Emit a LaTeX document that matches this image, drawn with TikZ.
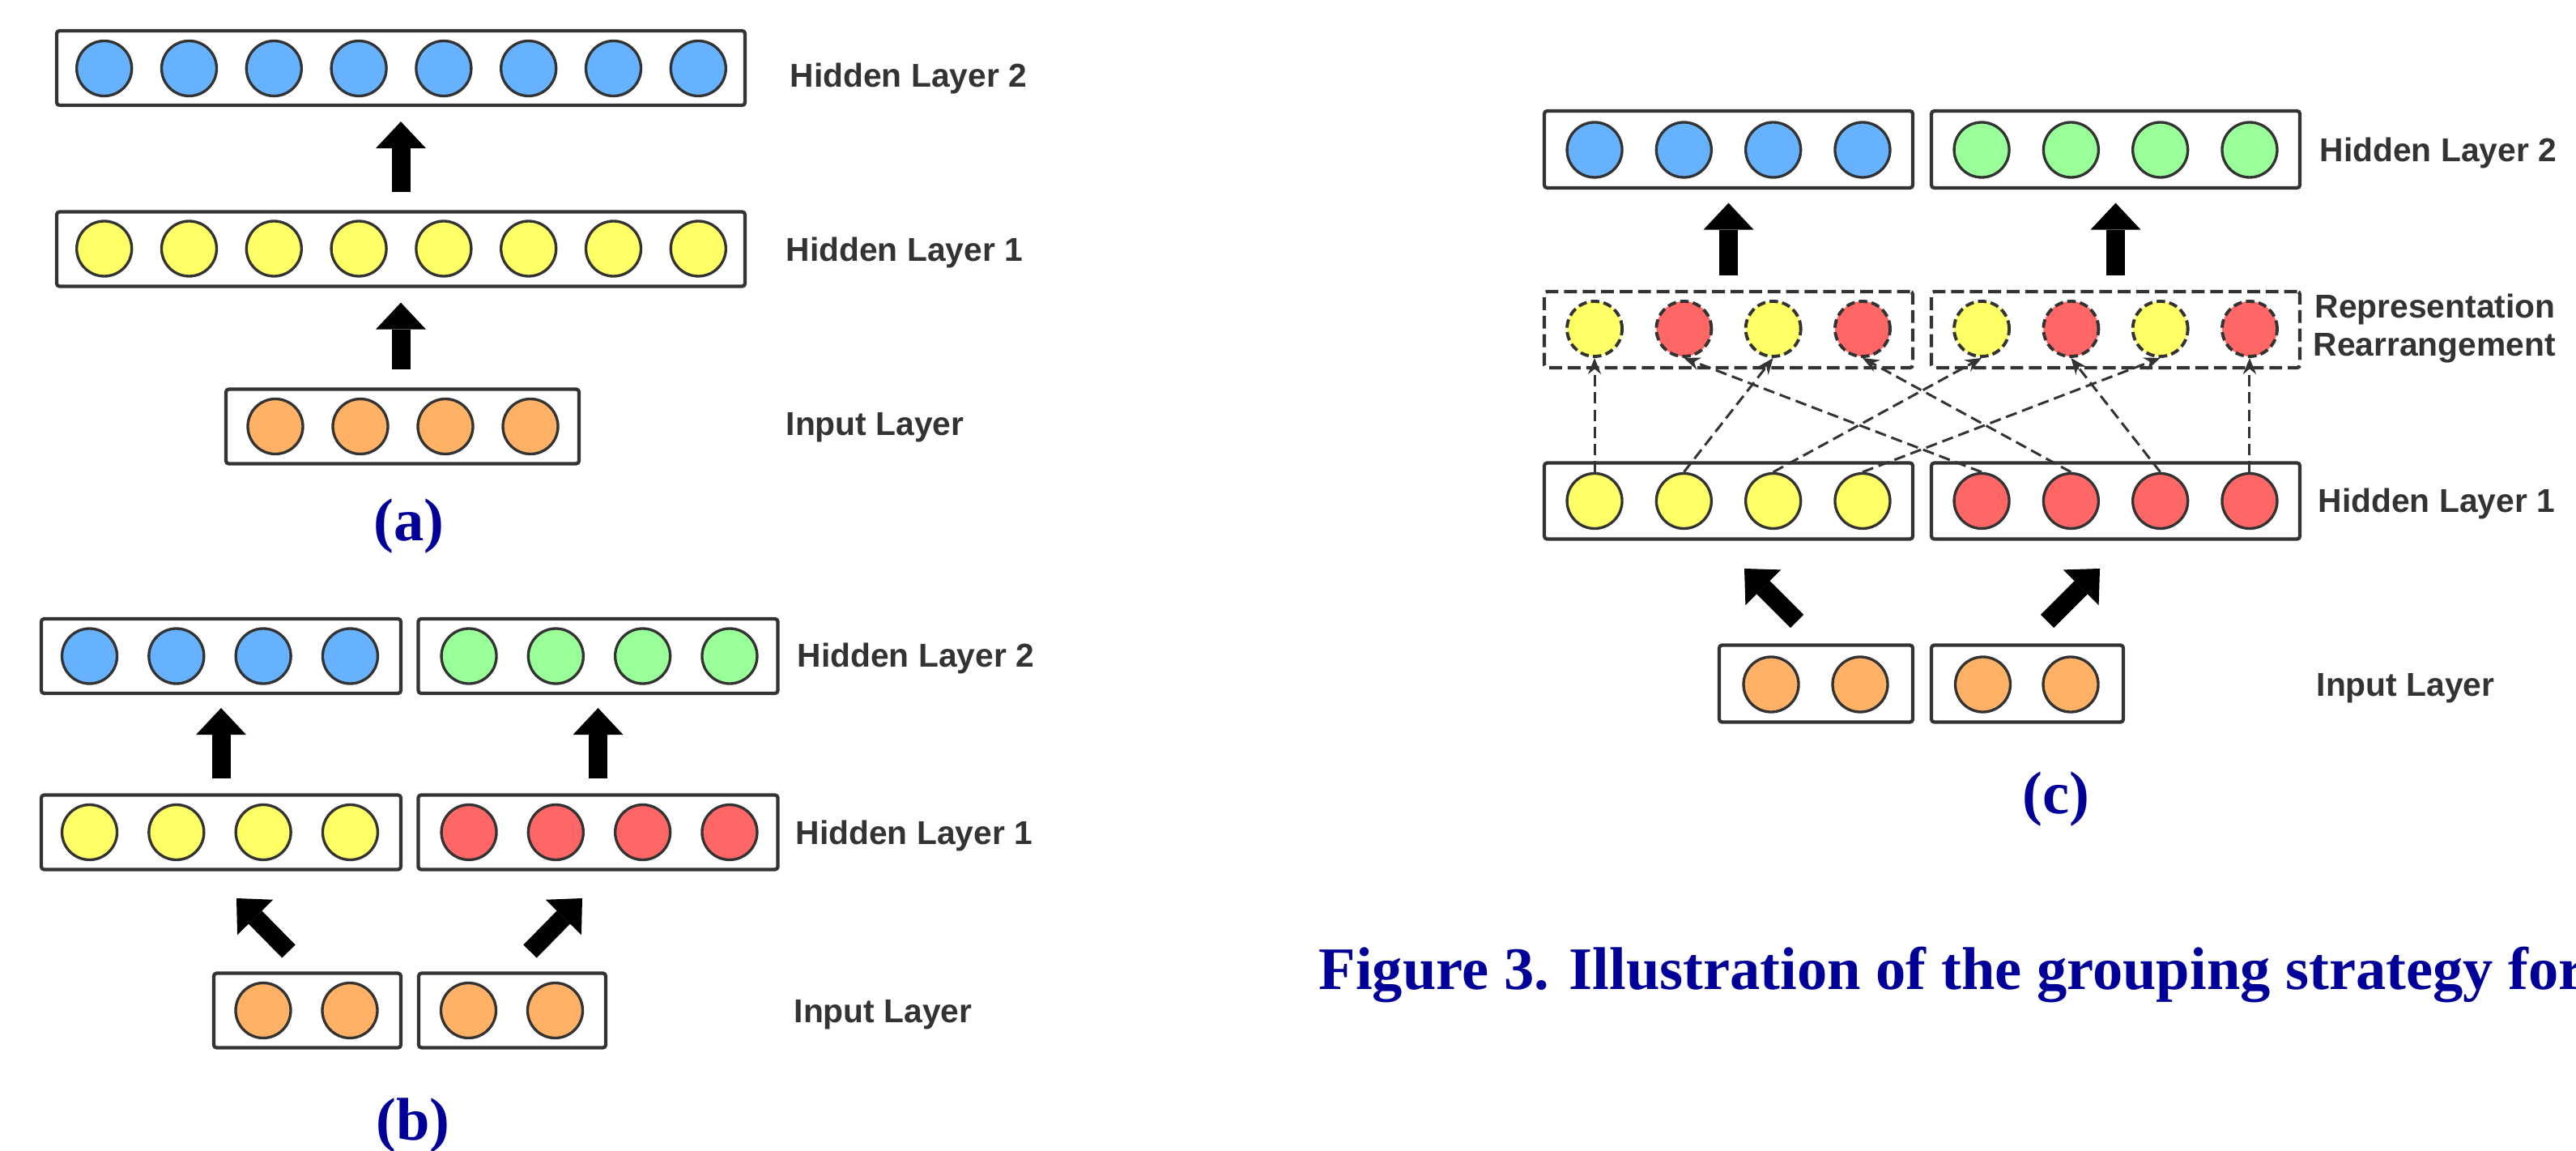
\documentclass[tikz,border=0pt]{standalone}
\usepackage{fontspec}
\setmainfont{Liberation Serif}
\setsansfont{Liberation Sans}
\usetikzlibrary{arrows.meta}
\definecolor{linegray}{HTML}{333333}
\definecolor{cblue}{HTML}{66B2FF}
\definecolor{cyellow}{HTML}{FFFF66}
\definecolor{corange}{HTML}{FFB266}
\definecolor{cred}{HTML}{FF6666}
\definecolor{cgreen}{HTML}{99FF99}
\definecolor{capblue}{HTML}{000099}

\begin{document}
\begin{tikzpicture}[
layerbox/.style={rectangle,rounded corners=1pt,draw=linegray,line width=1.2pt,inner sep=0pt,minimum height=0.92cm},
dashbox/.style={layerbox,dash pattern=on 4.5pt off 2pt},
neuron/.style={circle,draw=linegray,line width=0.95pt,minimum size=0.68cm,inner sep=0pt},
moved/.style={neuron,line width=1.1pt,dash pattern=on 3pt off 1.5pt},
bigarrow/.style={black,line width=0.23cm,-{Triangle[width=0.62cm,length=0.33cm,line width=0pt]}},
regroup/.style={linegray,line width=0.85pt,dash pattern=on 4pt off 2pt,-{Stealth[length=2mm,width=1.6mm]}},
lbl/.style={anchor=base west,inner sep=0pt,text=linegray,font=\sffamily\bfseries\fontsize{11.6}{14}\selectfont},
tag/.style={text=capblue,inner sep=0pt,font=\bfseries\fontsize{21.2}{25}\selectfont}]

\useasboundingbox (0,0) rectangle (31.81,-14.21);

% (a)
\node[layerbox,minimum width=8.50cm](a-h2) at (4.95,-0.84){};
\node[layerbox,minimum width=8.50cm](a-h1) at (4.95,-3.075){};
\node[layerbox,minimum width=4.36cm](a-in) at (4.97,-5.265){};
\foreach \i in {1,...,8}{
  \node[neuron,fill=cblue](a-h2-\i) at ({4.955+(\i-4.5)*1.048},-0.845){};
  \node[neuron,fill=cyellow](a-h1-\i) at ({4.955+(\i-4.5)*1.048},-3.07){};
}
\foreach \i in {1,...,4}
  \node[neuron,fill=corange](a-in-\i) at ({4.975+(\i-2.5)*1.05},-5.265){};

\draw[bigarrow] ([yshift=0.22cm]a-h1.north) -- ([yshift=-0.18cm]a-h2.south);
\draw[bigarrow] ([yshift=0.22cm]a-in.north -| a-h1.south) -- ([yshift=-0.18cm]a-h1.south);

\node[lbl](a-h2-lbl) at (9.75,-1.08){Hidden Layer 2};
\node[lbl](a-h1-lbl) at (9.70,-3.225){Hidden Layer 1};
\node[lbl](a-in-lbl) at (9.70,-5.375){Input Layer};
\node[tag](a-tag) at (5.05,-6.50){(a)};

% (b)
\node[layerbox,minimum width=4.44cm](b-h2L) at (2.73,-8.10){};
\node[layerbox,minimum width=4.44cm](b-h2R) at (7.385,-8.10){};
\node[layerbox,minimum width=4.44cm](b-h1L) at (2.73,-10.275){};
\node[layerbox,minimum width=4.44cm](b-h1R) at (7.385,-10.275){};
\node[layerbox,minimum width=2.31cm](b-inL) at (3.795,-12.475){};
\node[layerbox,minimum width=2.31cm](b-inR) at (6.325,-12.475){};
\foreach \i in {1,...,4}{
  \node[neuron,fill=cblue](b-h2L-\i) at ({2.715+(\i-2.5)*1.073},-8.10){};
  \node[neuron,fill=cgreen](b-h2R-\i) at ({7.40+(\i-2.5)*1.073},-8.10){};
  \node[neuron,fill=cyellow](b-h1L-\i) at ({2.715+(\i-2.5)*1.073},-10.275){};
  \node[neuron,fill=cred](b-h1R-\i) at ({7.40+(\i-2.5)*1.073},-10.275){};
}
\foreach \i in {1,2}{
  \node[neuron,fill=corange](b-inL-\i) at ({3.785+(\i-1.5)*1.07},-12.475){};
  \node[neuron,fill=corange](b-inR-\i) at ({6.32+(\i-1.5)*1.07},-12.475){};
}

\draw[bigarrow] ([yshift=0.18cm]b-h1L.north) -- ([yshift=-0.16cm]b-h2L.south);
\draw[bigarrow] ([yshift=0.18cm]b-h1R.north) -- ([yshift=-0.16cm]b-h2R.south);
\coordinate (b-tailL) at (3.565,-11.745);
\coordinate (b-tipL) at (2.92,-11.09);
\coordinate (b-tailR) at (6.545,-11.745);
\coordinate (b-tipR) at (7.19,-11.09);
\draw[bigarrow] (b-tailL) -- (b-tipL);
\draw[bigarrow] (b-tailR) -- (b-tipR);

\node[lbl](b-h2-lbl) at (9.84,-8.235){Hidden Layer 2};
\node[lbl](b-h1-lbl) at (9.82,-10.42){Hidden Layer 1};
\node[lbl](b-in-lbl) at (9.80,-12.62){Input Layer};
\node[tag](b-tag) at (5.10,-13.90){(b)};

% (c)
\node[layerbox,minimum width=4.55cm,minimum height=0.95cm](c-h2L) at (21.345,-1.845){};
\node[layerbox,minimum width=4.55cm,minimum height=0.95cm](c-h2R) at (26.125,-1.845){};
\node[dashbox,minimum width=4.55cm,minimum height=0.94cm](c-rrL) at (21.345,-4.07){};
\node[dashbox,minimum width=4.55cm,minimum height=0.94cm](c-rrR) at (26.125,-4.07){};
\node[layerbox,minimum width=4.55cm,minimum height=0.94cm](c-h1L) at (21.345,-6.185){};
\node[layerbox,minimum width=4.55cm,minimum height=0.94cm](c-h1R) at (26.125,-6.185){};
\node[layerbox,minimum width=2.39cm,minimum height=0.95cm](c-inL) at (22.425,-8.44){};
\node[layerbox,minimum width=2.37cm,minimum height=0.95cm](c-inR) at (25.035,-8.44){};
\foreach \i in {1,...,4}{
  \pgfmathtruncatemacro{\j}{\i+4}
  \node[neuron,fill=cblue](c-h2-\i) at ({21.345+(\i-2.5)*1.103},-1.85){};
  \node[neuron,fill=cgreen](c-h2-\j) at ({26.125+(\i-2.5)*1.103},-1.85){};
  \node[neuron,fill=cyellow](c-h1-\i) at ({21.345+(\i-2.5)*1.103},-6.185){};
  \node[neuron,fill=cred](c-h1-\j) at ({26.125+(\i-2.5)*1.103},-6.185){};
}
\foreach \i/\c in {1/cyellow,2/cred,3/cyellow,4/cred}{
  \pgfmathtruncatemacro{\j}{\i+4}
  \node[moved,fill=\c](c-rr-\i) at ({21.345+(\i-2.5)*1.103},-4.06){};
  \node[moved,fill=\c](c-rr-\j) at ({26.125+(\i-2.5)*1.103},-4.06){};
}
\node[neuron,fill=corange](c-in-1) at (21.87,-8.45){};
\node[neuron,fill=corange](c-in-2) at (22.97,-8.45){};
\node[neuron,fill=corange](c-in-3) at (24.485,-8.45){};
\node[neuron,fill=corange](c-in-4) at (25.57,-8.45){};

\draw[regroup] (c-h1-1.north) -- (c-rr-1.south);
\draw[regroup] (c-h1-2.north) -- (c-rr-3.south);
\draw[regroup] (c-h1-3.north) -- (c-rr-5.south);
\draw[regroup] (c-h1-4.north) -- (c-rr-7.south);
\draw[regroup] (c-h1-5.north) -- (c-rr-2.south);
\draw[regroup] (c-h1-6.north) -- (c-rr-4.south);
\draw[regroup] (c-h1-7.north) -- (c-rr-6.south);
\draw[regroup] (c-h1-8.north) -- (c-rr-8.south);

\draw[bigarrow] ([yshift=0.18cm]c-rrL.north) -- ([yshift=-0.165cm]c-h2L.south);
\draw[bigarrow] ([yshift=0.18cm]c-rrR.north) -- ([yshift=-0.165cm]c-h2R.south);
\coordinate (c-tailL) at (22.19,-7.67);
\coordinate (c-tipL) at (21.54,-7.02);
\coordinate (c-tailR) at (25.28,-7.67);
\coordinate (c-tipR) at (25.93,-7.02);
\draw[bigarrow] (c-tailL) -- (c-tipL);
\draw[bigarrow] (c-tailR) -- (c-tipR);

\node[lbl](c-h2-lbl) at (28.64,-1.995){Hidden Layer 2};
\node[lbl](c-rr-lbl1) at (28.58,-3.93){Representation};
\node[lbl](c-rr-lbl2) at (28.56,-4.40){Rearrangement};
\node[lbl](c-h1-lbl) at (28.62,-6.33){Hidden Layer 1};
\node[lbl](c-in-lbl) at (28.60,-8.595){Input Layer};
\node[tag](c-tag) at (25.39,-9.87){(c)};

\node[tag,anchor=base west](caption) at (16.28,-12.21){Figure 3. Illustration of the grouping strategy for};

\end{tikzpicture}
\end{document}
